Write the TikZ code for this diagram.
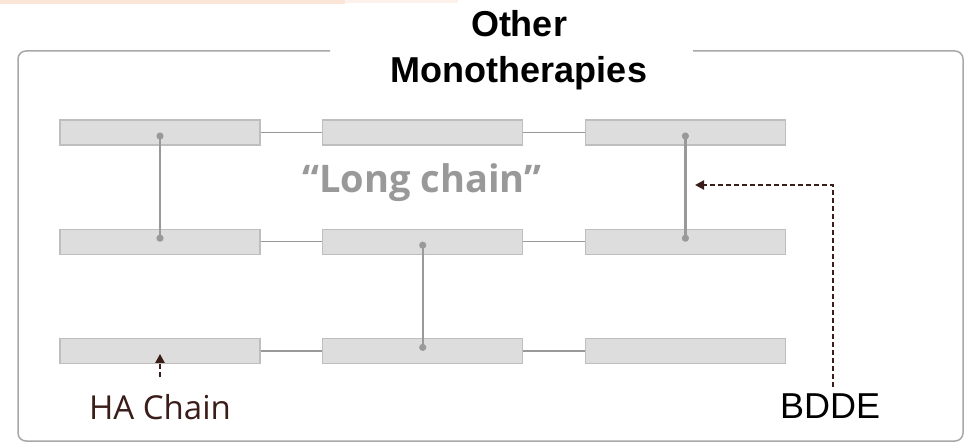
\documentclass[tikz,border=0pt]{standalone}
\usepackage{fontspec}
\setmainfont{Liberation Sans}
\newfontfamily\chainfont{Open Sans}
\usetikzlibrary{positioning,arrows.meta,calc}

\definecolor{boxfill}{HTML}{DDDDDD}
\definecolor{boxedge}{HTML}{BEBEBE}
\definecolor{linkgray}{HTML}{999999}
\definecolor{framegray}{HTML}{A8A8A8}
\definecolor{chainbrown}{HTML}{3A1C18}
\definecolor{peach}{HTML}{FBE5D6}

\begin{document}
\begin{tikzpicture}[x=1pt, y=-1pt,
        chainbox/.style={draw=boxedge, fill=boxfill, line width=1.2pt,
            minimum width=200pt, minimum height=25pt, inner sep=0pt},
        link/.style={draw=linkgray, line width=1.5pt},
        crosslink/.style={draw=linkgray, line width=2.2pt,
            {Circle[length=7pt]}-{Circle[length=7pt]}},
        brownarrow/.style={draw=chainbrown, line width=2.2pt,
            dash pattern=on 5pt off 3pt, -{Triangle[length=9pt, width=9pt]}}]
            % Canvas size of the picture
            \pgfmathsetmacro{\colgap}{61.5}
            \pgfmathsetmacro{\rowgap}{83}
            \useasboundingbox (0, 0) rectangle (965, 443);

            % Band at the top left
            \fill[peach] (0, 0) rectangle (345, 4);
            \fill[peach!50] (345, 0) rectangle (458, 3);

            % Rounded frame, open where the title sits
            \draw[framegray, line width=1.5pt, rounded corners=8pt]
                (330, 51) -- (18, 51) -- (18, 441) -- (963, 441) -- (963, 51) -- (693, 51);

            \node[anchor=base, font=\bfseries\fontsize{36}{42}\selectfont] (title1) at (519, 37) {Other};
            \node[anchor=base, font=\bfseries\fontsize{36}{42}\selectfont] (title2) at (519, 83) {Monotherapies};

            % Chain boxes, three rows of three
            \node[chainbox] (t1) at (160, 132.5) {};
            \node[chainbox, right=\colgap pt of t1] (t2) {};
            \node[chainbox, right=\colgap pt of t2] (t3) {};
            \node[chainbox, below=\rowgap pt of t1] (m1) {};
            \node[chainbox, right=\colgap pt of m1] (m2) {};
            \node[chainbox, right=\colgap pt of m2] (m3) {};
            \node[chainbox, below=\rowgap pt of m1] (b1) {};
            \node[chainbox, right=\colgap pt of b1] (b2) {};
            \node[chainbox, right=\colgap pt of b2] (b3) {};

            \node[anchor=base, text=linkgray, font=\chainfont\bfseries\fontsize{38}{44}\selectfont]
                (longchain) at (422, 193) {“Long chain”};

            % Links along each chain
            \begin{scope}
                \draw[link] (t1) -- (t2);
                \draw[link] (t2) -- (t3);
                \draw[link] (m1) -- (m2);
                \draw[link] (m2) -- (m3);
                \draw[link] (b1) -- (b2);
                \draw[link] (b2) -- (b3);
            \end{scope}

            % Crosslinks between chains
            \begin{scope}
                \draw[crosslink] (t1.center) -- (m1.center);
                \draw[crosslink] (t3.center) -- (m3.center);
                \draw[crosslink] (m2.center) -- (b2.center);
            \end{scope}

            % Labels and their arrows
            \node[text=chainbrown, font=\chainfont\fontsize{33}{40}\selectfont, anchor=base]
                (ha) at (160, 419) {HA Chain};
            \node[font=\fontsize{36}{42}\selectfont, anchor=base] (bdde) at (830, 418) {BDDE};
            \coordinate (bddetip) at (695, 185);

            \draw[brownarrow, shorten <=13pt, shorten >=3pt] (ha.north) -- (b1.center);
            \draw[brownarrow, shorten <=3pt] ([xshift=3pt]bdde.north) |- (bddetip);
        \end{tikzpicture}
\end{document}
